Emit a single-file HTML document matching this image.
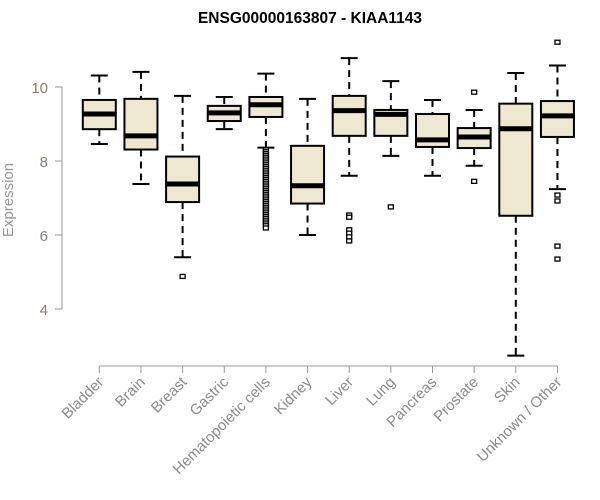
<!DOCTYPE html>
<html><head><meta charset="utf-8"><style>
body{margin:0;background:#fff}
svg{display:block;font-family:"Liberation Sans",Arial,sans-serif}
</style></head><body>
<svg id="chart" width="600" height="500" viewBox="0 0 600 500">
<text x="310" y="23" text-anchor="middle" font-size="15.5" font-weight="bold">ENSG00000163807 - KIAA1143</text>
<g id="yaxis"></g>
<text transform="translate(13,200) rotate(-90)" text-anchor="middle" font-size="15" fill="#999">Expression</text>
<g id="xaxis"></g>
<g id="boxes"></g>
</svg>
<script>
const categories=["Bladder","Brain","Breast","Gastric","Hematopoietic cells","Kidney","Liver","Lung","Pancreas","Prostate","Skin","Unknown / Other"];
const whiskerHigh=[10.31,10.41,9.76,9.73,10.36,9.68,10.78,10.16,9.65,9.38,10.38,10.58];
const q3=[9.65,9.68,8.12,9.49,9.73,8.41,9.76,9.38,9.27,8.89,9.55,9.62];
const medians=[9.27,8.68,7.38,9.30,9.52,7.33,9.36,9.26,8.57,8.65,8.87,9.22];
const q1=[8.86,8.31,6.89,9.08,9.19,6.85,8.68,8.68,8.38,8.35,6.52,8.65];
const whiskerLow=[8.46,7.38,5.40,8.86,8.36,6.00,7.60,8.14,7.60,7.87,2.74,7.24];
const outliers=[[],[],[4.88],[],[8.30,8.25,8.2,8.15,8.1,8.05,8.0,7.95,7.9,7.85,7.8,7.75,7.7,7.65,7.6,7.55,7.5,7.45,7.4,7.35,7.3,7.25,7.2,7.15,7.1,7.05,7.0,6.95,6.9,6.85,6.8,6.75,6.7,6.65,6.6,6.55,6.5,6.45,6.4,6.35,6.3,6.25,6.19],[],[6.54,6.48,6.14,6.05,5.95,5.84],[6.76],[],[9.86,7.45],[],[11.21,7.08,6.92,5.70,5.35]];
const yTicks=[4,6,8,10];
const NS="http://www.w3.org/2000/svg";
const y=v=>87+(10-v)*37;
const x=i=>99.3+i*41.65;
function mk(tag,attrs,parent){const e=document.createElementNS(NS,tag);for(const k in attrs)e.setAttribute(k,attrs[k]);parent.appendChild(e);return e;}
const ya=document.getElementById('yaxis');
mk('line',{x1:62,x2:62,y1:y(10),y2:y(4),stroke:'#999'},ya);
yTicks.forEach(t=>{
  mk('line',{x1:55,x2:62,y1:y(t),y2:y(t),stroke:'#999'},ya);
  const tx=mk('text',{x:48,y:y(t)+6,'text-anchor':'end','font-size':15,fill:'#8b7d6b'},ya);
  tx.textContent=t;
  
  
});
const xa=document.getElementById('xaxis');
mk('line',{x1:x(0),x2:x(11),y1:366,y2:366,stroke:'#999'},xa);
categories.forEach((c,i)=>{
  mk('line',{x1:x(i),x2:x(i),y1:366,y2:373,stroke:'#999'},xa);
  const tx=mk('text',{transform:`translate(${x(i)+5},${383}) rotate(-45)`,'text-anchor':'end','font-size':15,fill:'#8b8b8b'},xa);
  tx.textContent=c;
  
  
});
const bg=document.getElementById('boxes');
categories.forEach((c,i)=>{
  const g=mk('g',{},bg);
  
  
  const cx=x(i),hw=16.5,cw=8.5;
  mk('line',{x1:cx,x2:cx,y1:y(whiskerHigh[i]),y2:y(q3[i]),stroke:'#000','stroke-width':2,'stroke-dasharray':'7,5'},g);
  mk('line',{x1:cx,x2:cx,y1:y(q1[i]),y2:y(whiskerLow[i]),stroke:'#000','stroke-width':2,'stroke-dasharray':'7,5'},g);
  mk('line',{x1:cx-cw,x2:cx+cw,y1:y(whiskerHigh[i]),y2:y(whiskerHigh[i]),stroke:'#000','stroke-width':2},g);
  mk('line',{x1:cx-cw,x2:cx+cw,y1:y(whiskerLow[i]),y2:y(whiskerLow[i]),stroke:'#000','stroke-width':2},g);
  mk('rect',{x:cx-hw,y:y(q3[i]),width:hw*2,height:y(q1[i])-y(q3[i]),fill:'#ede8cf',stroke:'#000','stroke-width':2},g);
  mk('line',{x1:cx-hw,x2:cx+hw,y1:y(medians[i]),y2:y(medians[i]),stroke:'#000','stroke-width':5},g);
  outliers[i].forEach(v=>{
    const p=mk('rect',{x:cx-2.5,y:y(v)-2,width:5,height:4,fill:'#fff',stroke:'#000','stroke-width':1.3},g);
    
    
  });
});
</script>
</body></html>
